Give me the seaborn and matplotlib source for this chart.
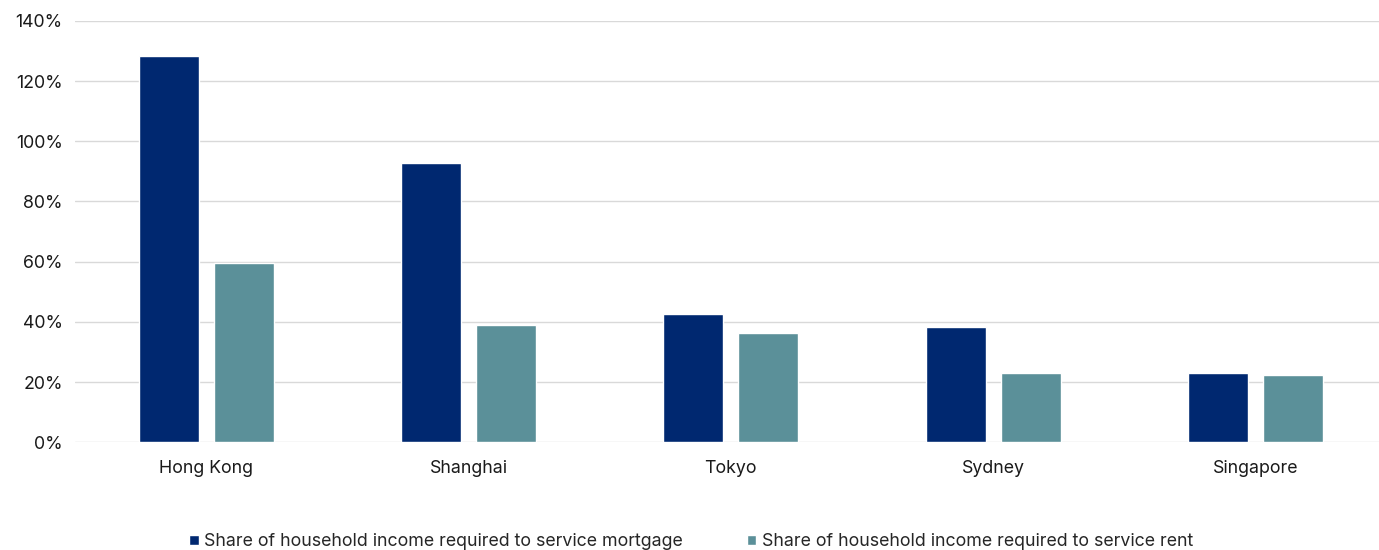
import numpy as np
import pandas as pd
import matplotlib
matplotlib.use('Agg')
import matplotlib.pyplot as plt
import seaborn as sns
from matplotlib.ticker import PercentFormatter

# data
cities = ['Hong Kong', 'Shanghai', 'Tokyo', 'Sydney', 'Singapore']
mortgage = [128.4, 92.8, 42.6, 38.2, 22.9]
rent = [59.5, 38.9, 36.2, 22.9, 22.3]
series_names = ['Share of household income required to service mortgage',
                'Share of household income required to service rent']
colors = ['#002870', '#5B9099']

df = pd.DataFrame({
    'City': cities * 2,
    'Value': mortgage + rent,
    'Series': [series_names[0]] * len(cities) + [series_names[1]] * len(cities),
})

sns.set_theme(style='white')
plt.rcParams['font.family'] = ['Inter', 'DejaVu Sans']

fig = plt.figure(figsize=(13.79, 5.5), dpi=100)
ax = fig.add_axes([0.0545, 0.196, 0.951, 0.766])

sns.barplot(data=df, x='City', y='Value', hue='Series', palette=colors,
            width=0.572, gap=0.2, ax=ax, saturation=1, legend=True)

ax.set_ylim(0, 140)
ax.set_yticks(np.arange(0, 141, 20))
ax.yaxis.set_major_formatter(PercentFormatter(decimals=0))
ax.set_xlim(-0.5, 4.5)
ax.set_xlabel('')
ax.set_ylabel('')
ax.grid(axis='y', color='#d9d9d9', linewidth=1)
ax.set_axisbelow(True)
for s in ax.spines.values():
    s.set_visible(False)
ax.tick_params(axis='both', length=0, labelsize=12.8, colors='#1a1a1a')
ax.tick_params(axis='x', pad=13)
ax.tick_params(axis='y', pad=9)

handles, labels = ax.get_legend_handles_labels()
ax.legend_.remove()
fig.legend(handles, labels, loc='center', bbox_to_anchor=(0.501, 0.015), ncol=2,
           frameon=False, fontsize=12.8, handlelength=0.55, handleheight=0.55,
           handletextpad=0.3, columnspacing=3.6)

plt.savefig('out.png', dpi=100)
